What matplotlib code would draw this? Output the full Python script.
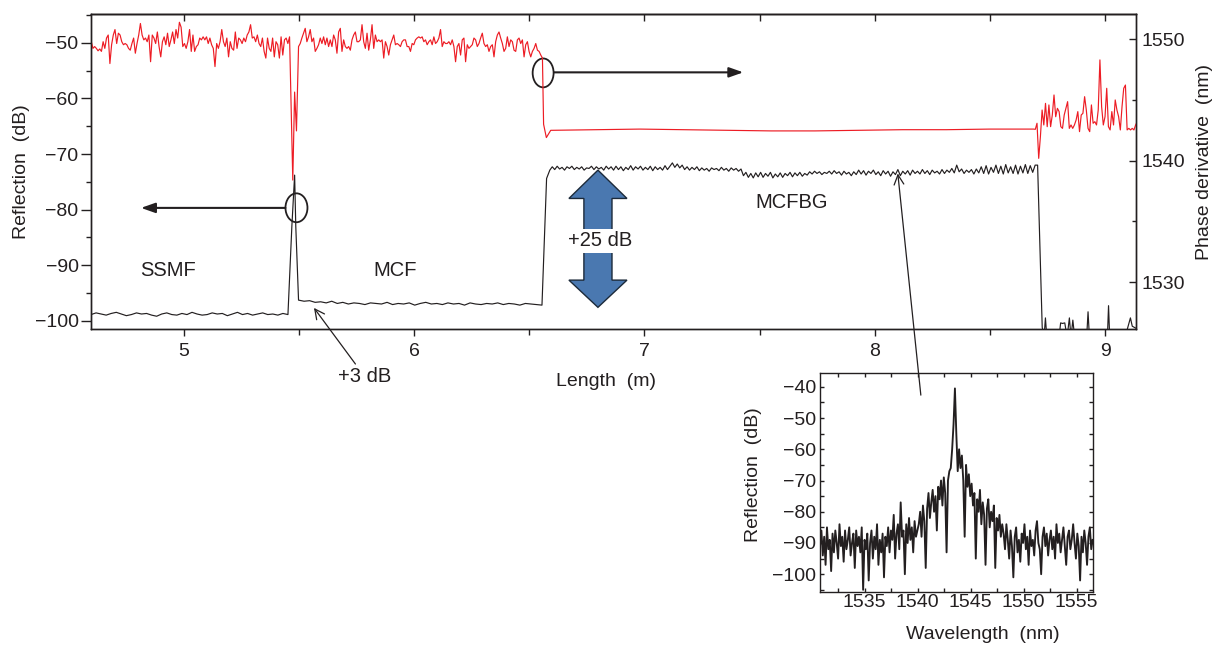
import numpy as np
import matplotlib
matplotlib.use('Agg')
import matplotlib.pyplot as plt
from matplotlib.ticker import MultipleLocator
from matplotlib.patches import Ellipse, Polygon

plt.rcParams.update({
    'font.family': 'sans-serif', 'font.sans-serif': ['Liberation Sans', 'DejaVu Sans'],
    'font.size': 14, 'axes.linewidth': 1.0, 'axes.unicode_minus': True,
})
INK = '#231f20'
RED = '#ed1c24'
BLUE = '#4a78b0'

# ---------------- reflection trace (black, left axis, dB) ----------------
ssmf_span = (4.597, 5.452)
ssmf_db = [-98.9, -98.6, -98.8, -99.0, -98.7, -98.5, -98.8, -99.1, -98.9, -98.6,
           -98.8, -98.7, -99.0, -99.2, -98.8, -98.6, -98.9, -99.0, -98.7, -98.9,
           -98.5, -98.8, -99.0, -98.9, -98.6, -98.8, -98.7, -99.1, -98.8, -98.5,
           -98.9, -98.7, -99.0, -98.8, -98.6, -98.9, -98.8, -99.0, -98.7, -98.9]
peak_len = [5.469, 5.481, 5.486]
peak_db = [-83.0, -73.8, -83.0]
mcf_span = (5.498, 6.555)
mcf_db = [-96.3, -96.5, -96.4, -96.7, -96.6, -96.8, -96.5, -96.9, -96.7, -97.0,
          -96.8, -96.9, -97.1, -96.8, -96.9, -97.0, -96.7, -97.1, -96.9, -97.0,
          -96.8, -97.2, -96.9, -96.7, -97.0, -96.9, -97.1, -96.8, -97.0, -96.9,
          -97.2, -96.8, -97.0, -97.1, -96.9, -97.0, -96.8, -97.1, -96.9, -97.0,
          -97.2, -96.9, -97.0, -97.1, -97.2]
rise_len = [6.575]
rise_db = [-74.4]
mcfbg_span = (6.589, 8.707)
mcfbg_db = [
    -72.9, -72.3, -72.8, -72.2, -72.7, -72.4, -72.9, -72.3, -72.6, -72.2, -72.8, -72.4, -72.7,
    -72.3, -72.9, -72.5, -72.6, -72.2, -72.8, -72.3, -72.7, -72.4, -72.9, -72.2, -72.7,
    -72.3, -72.9, -72.2, -72.8, -72.3, -73.0, -72.4, -72.8, -72.1, -72.9, -72.3, -72.7, -72.2,
    -72.9, -72.4, -72.8, -72.2, -73.0, -72.3, -72.8, -72.4, -72.9, -72.1, -72.8, -72.2,
    -71.6, -72.4, -71.8, -72.5, -72.0, -72.8, -72.3, -72.9, -72.4, -72.8, -72.3, -73.0, -72.5,
    -72.9, -72.6, -73.1, -72.5, -72.8, -72.6, -73.0, -72.4, -72.9, -72.6, -73.1, -72.5,
    -72.9, -72.6, -73.1, -72.7, -73.9, -73.3, -74.2, -73.5, -74.3, -73.4, -74.1, -73.3, -74.2,
    -73.5, -74.0, -73.3, -74.3, -73.6, -74.1, -73.4, -74.2, -73.5, -73.9, -73.3, -74.1,
    -73.4, -73.9, -73.3, -74.0, -73.5, -73.8, -73.2, -73.6, -73.1, -73.5, -73.2, -73.7, -73.3,
    -73.5, -73.1, -73.6, -73.0, -73.5, -73.2, -73.8, -73.1, -73.6, -73.3, -73.9, -73.2,
    -73.7, -72.9, -73.6, -73.0, -73.8, -73.1, -73.5, -72.9, -73.7, -73.2, -73.9, -73.0, -73.6,
    -73.1, -74.0, -73.2, -73.7, -72.8, -73.9, -73.1, -73.6, -73.0, -73.8, -72.9, -73.5,
    -73.1, -73.6, -72.8, -73.5, -73.0, -73.7, -72.9, -73.4, -73.1, -73.6, -72.8, -73.5, -72.9,
    -73.3, -72.6, -73.4, -72.0, -73.2, -72.7, -73.5, -72.9, -73.3, -72.8, -73.6, -72.7,
    -73.4, -72.3, -73.5, -72.1, -73.6, -72.4, -73.3, -72.0, -73.5, -72.2, -73.6, -71.9, -73.4,
    -72.3, -73.5, -72.0, -73.6, -72.2, -73.4, -71.9, -73.5, -72.1, -73.3, -72.0, -72.0]
tail_len = [8.727, 8.735, 8.741, 8.747, 8.760, 8.800, 8.807, 8.815, 8.825, 8.835, 8.845, 8.852,
            8.860, 8.868, 8.900, 8.920, 8.926, 8.932, 8.990, 9.010, 9.015, 9.020, 9.080, 9.100,
            9.110, 9.118, 9.140]
tail_db = [-101.2, -103, -99.5, -103, -102, -103, -100.4, -100.5, -100.4, -103, -99.5, -103,
           -99.9, -103, -104, -103, -98.4, -103, -104, -103, -97.3, -103, -104, -101,
           -99.5, -101, -101.5]

# ---------------- phase derivative trace (red, right axis, nm) ----------------
red_a_span = (4.598, 5.459)
red_a_nm = [
    1549.8, 1549.25, 1549.4, 1549.25, 1549.05, 1549.2, 1549.0, 1549.8, 1549.25, 1550.1,
    1550.35, 1548.0, 1549.55, 1550.35, 1550.8, 1549.65, 1550.5, 1550.35, 1549.8, 1549.55,
    1549.65, 1549.55, 1549.25, 1549.1, 1549.65, 1550.1, 1548.85, 1549.65, 1550.35, 1551.3,
    1550.35, 1549.95, 1550.1, 1549.8, 1550.35, 1548.15, 1550.35, 1550.1, 1549.65, 1550.6,
    1549.4, 1548.55, 1549.8, 1550.2, 1549.55, 1550.5, 1549.4, 1549.95, 1550.6, 1549.65,
    1550.8, 1550.1, 1551.4, 1551.0, 1549.4, 1549.65, 1549.25, 1549.8, 1550.8, 1549.0,
    1550.35, 1549.0, 1549.4, 1549.55, 1550.1, 1549.95, 1550.2, 1549.95, 1550.2, 1549.65,
    1550.1, 1549.55, 1549.25, 1547.75, 1549.65, 1549.25, 1549.8, 1550.8, 1549.8, 1549.4,
    1550.1, 1548.55, 1549.8, 1549.25, 1549.1, 1550.6, 1549.25, 1550.1, 1549.95, 1549.65,
    1550.1, 1549.8, 1550.35, 1550.6, 1551.2, 1550.1, 1550.2, 1549.8, 1550.35, 1549.65,
    1549.4, 1550.1, 1549.0, 1548.45, 1550.1, 1549.25, 1549.0, 1550.1, 1548.55, 1549.8,
    1549.55, 1548.45, 1550.2, 1548.7, 1549.95, 1550.1, 1549.65, 1550.2]
red_dip_len = [5.473, 5.481, 5.489]
red_dip_nm = [1538.4, 1545.65, 1542.45]
red_b_span = (5.498, 6.557)
red_b_nm = [
    1549.4, 1549.65, 1550.1, 1550.5, 1550.9, 1549.8, 1550.2, 1550.8, 1549.8, 1550.1,
    1549.0, 1549.25, 1549.55,
    1550.1, 1549.65, 1550.2, 1549.55, 1550.1, 1549.4, 1549.95, 1549.4, 1550.35, 1549.95,
    1548.85, 1550.6, 1550.9, 1549.0, 1549.95, 1549.4, 1549.25, 1549.4, 1549.1, 1549.95,
    1550.35, 1550.6, 1549.8, 1549.8, 1549.95, 1551.2, 1549.8, 1549.25, 1550.5, 1549.1,
    1549.95, 1551.2, 1549.25, 1550.35, 1549.8, 1549.95, 1549.8, 1549.95, 1548.45, 1549.8,
    1549.4, 1548.7, 1549.55, 1549.95, 1550.35, 1549.55, 1549.65, 1549.55, 1549.4, 1549.8,
    1549.95, 1549.95, 1549.4, 1549.4, 1549.0, 1549.65, 1549.55, 1549.95, 1550.1, 1550.2,
    1550.1, 1550.2, 1549.8, 1549.95, 1549.55, 1549.8, 1549.95, 1549.55, 1550.2, 1549.65,
    1549.8, 1550.1, 1550.8, 1549.4, 1549.8, 1549.65, 1549.65, 1549.8, 1549.55, 1549.95,
    1549.4, 1548.15, 1549.4, 1549.65, 1548.7, 1549.95, 1550.1, 1548.15, 1549.55, 1549.25,
    1549.4, 1549.55, 1550.1, 1549.95, 1549.4, 1549.65, 1550.1, 1550.5, 1549.65, 1549.4,
    1549.55, 1549.0, 1549.4, 1549.55, 1548.55, 1549.8, 1550.35, 1550.6, 1550.1, 1549.65,
    1549.0, 1549.25, 1550.2, 1549.4, 1549.95, 1549.8, 1549.1, 1549.0, 1549.95, 1550.1,
    1549.65, 1549.95, 1548.55, 1549.55, 1549.8, 1549.0, 1548.55, 1549.0, 1549.25, 1549.65,
    1549.1, 1549.0, 1548.7, 1548.45]
red_drop_len = [6.562, 6.574, 6.593]
red_drop_nm = [1543.0, 1541.9, 1542.5]
red_flat_span = (6.60, 8.690)
red_flat_nm = [1542.5, 1542.55, 1542.6, 1542.55, 1542.5, 1542.45, 1542.45, 1542.5, 1542.55,
               1542.55, 1542.6, 1542.6]
red_tail_span = (8.697, 9.140)
red_tail_nm = [
    1542.58, 1543.08, 1540.19, 1541.98, 1544.17, 1542.94, 1544.72, 1542.8, 1544.59, 1542.8,
    1543.76, 1545.41, 1543.62, 1544.31, 1544.04, 1542.8, 1542.66, 1543.76, 1544.31, 1544.86,
    1542.66, 1542.94, 1542.66, 1542.94, 1543.35, 1544.04, 1542.39, 1543.76, 1543.9, 1545.27,
    1544.17, 1542.66, 1542.39, 1544.59, 1543.08, 1543.21, 1542.94, 1544.17, 1548.3, 1544.45,
    1542.94, 1543.62, 1545.96, 1542.8, 1542.53, 1544.04, 1542.94, 1545.0, 1544.17, 1543.62,
    1542.53, 1544.45, 1545.96, 1546.23, 1542.53, 1542.66, 1542.53, 1542.66, 1542.53, 1542.94,
    1543.21]

# ---------------- inset spectrum ----------------
spec_span = (1530.8, 1556.5)
spec_db = [
    -91, -86, -94, -88, -97, -85, -92, -89, -99, -87, -93, -86, -90, -95, -84, -91, -88, -96,
    -86, -92, -89, -85, -94, -90, -87, -98, -86, -91, -88, -93, -85, -105, -89, -92, -87, -102,
    -90, -86, -95, -88, -92, -84, -97, -89, -93, -87, -101, -88,
    -91, -85, -93, -86, -89, -81, -95, -87, -84, -92, -77, -88, -86, -100, -84, -90, -82, -89,
    -85, -93, -83, -88, -86,
    -84, -80, -88, -78, -83, -98, -79, -74, -82, -77, -73, -80, -75, -86, -72, -76, -70, -78,
    -69, -74, -93, -70, -67, -66,
    -60, -52, -40.5, -55, -67,
    -60, -66, -62, -70, -88, -65, -72, -68, -75,
    -71, -78, -74, -95, -76, -80, -73, -84, -77, -81, -97, -79, -76, -85, -80, -83, -78, -98,
    -82, -86, -81, -88, -84,
    -87, -92, -84, -89, -95, -86, -91, -101, -88, -85, -93, -89, -96, -87, -90, -84, -92, -88,
    -97, -86, -91, -89, -94, -86, -83, -90, -92, -100, -88, -85, -91, -87, -94, -89, -86, -92,
    -88, -95, -84, -90, -87, -93, -89, -85, -91, -97, -88, -86, -92, -89, -84, -90, -95, -87,
    -91, -102, -88, -93, -86, -90, -97, -88, -85, -92, -89]


def seg(span, vals):
    return np.linspace(span[0], span[1], len(vals))


blk_x = np.concatenate([seg(ssmf_span, ssmf_db), peak_len, seg(mcf_span, mcf_db), rise_len,
                        seg(mcfbg_span, mcfbg_db), tail_len])
blk_y = np.concatenate([ssmf_db, peak_db, mcf_db, rise_db, mcfbg_db, tail_db])
red_x = np.concatenate([seg(red_a_span, red_a_nm), red_dip_len, seg(red_b_span, red_b_nm),
                        red_drop_len, seg(red_flat_span, red_flat_nm), seg(red_tail_span, red_tail_nm)])
red_y = np.concatenate([red_a_nm, red_dip_nm, red_b_nm, red_drop_nm, red_flat_nm, red_tail_nm])

# ============================================
# FIGURE
# ============================================
fig = plt.figure(figsize=(12.17, 6.46), dpi=100)
ax = fig.add_axes([0.0748, 0.4907, 0.8586, 0.4876])
ax2 = ax.twinx()

ax.plot(blk_x, blk_y, color=INK, lw=0.85)
ax2.plot(red_x, red_y, color=RED, lw=0.85)

ax.set_xlim(4.597, 9.134)
ax.set_ylim(-101.5, -44.8)
ax2.set_ylim(1526.13, 1552.08)

ax.xaxis.set_major_locator(MultipleLocator(1)); ax.xaxis.set_minor_locator(MultipleLocator(0.5))
ax.yaxis.set_major_locator(MultipleLocator(10)); ax.yaxis.set_minor_locator(MultipleLocator(5))
ax2.yaxis.set_major_locator(MultipleLocator(10)); ax2.yaxis.set_minor_locator(MultipleLocator(5))
ax.tick_params(axis='x', which='major', direction='out', length=5, width=1, pad=5, colors=INK)
ax.tick_params(axis='x', which='minor', direction='out', length=4, width=1, colors=INK)
ax.tick_params(axis='y', which='major', direction='out', length=7, width=1, pad=2, colors=INK)
ax.tick_params(axis='y', which='minor', direction='out', length=3.5, width=1, colors=INK)
ax2.tick_params(axis='y', which='major', direction='in', length=5, width=1, pad=4, colors=INK)
ax2.tick_params(axis='y', which='minor', direction='in', length=3, width=1, colors=INK)
top = ax.secondary_xaxis('top')
top.xaxis.set_major_locator(MultipleLocator(0.5))
top.tick_params(direction='in', length=5, width=1, labeltop=False, colors=INK)
for a in (ax, ax2):
    for s in a.spines.values():
        s.set_color(INK)
top.spines['top'].set_color(INK)

ax.set_xlabel('Length  (m)', color=INK)
ax.xaxis.set_label_coords(0.493, -0.14)
ax.set_ylabel('Reflection  (dB)', color=INK)
ax.yaxis.set_label_coords(-0.058, 0.5)
ax2.set_ylabel('Phase derivative  (nm)', color=INK)
ax2.yaxis.set_label_coords(1.057, 0.53)

# region labels
txt = dict(color=INK, fontsize=14.5, ha='center', va='center')
ax.text(4.933, -90.9, 'SSMF', **txt)
ax.text(5.919, -90.9, 'MCF', **txt)
ax.text(7.640, -78.65, 'MCFBG', **txt)

# double blue arrow (+25 dB)
cx, hw, sw = 6.798, 0.126, 0.061
tip_t, base_t, base_b, tip_b = -72.9, -78.0, -92.7, -97.6
arrow_pts = [(cx, tip_t), (cx + hw, base_t), (cx + sw, base_t), (cx + sw, base_b), (cx + hw, base_b),
             (cx, tip_b), (cx - hw, base_b), (cx - sw, base_b), (cx - sw, base_t), (cx - hw, base_t)]
ax.add_patch(Polygon(arrow_pts, closed=True, fc=BLUE, ec='#1c2a3a', lw=1.0, zorder=4))
ax.text(6.808, -85.6, '+25 dB', zorder=5,
        bbox=dict(boxstyle='square,pad=0.12', fc='white', ec='none'), **txt)

# circles and axis-pointing arrows
ax.add_patch(Ellipse((5.489, -79.68), 0.0955, 5.2, fill=False, ec=INK, lw=1.3, zorder=5))
ax.add_patch(Ellipse((6.560, -55.4), 0.091, 5.2, fill=False, ec=INK, lw=1.3, zorder=5))
solid = dict(arrowstyle='-|>,head_length=0.85,head_width=0.3', color=INK, lw=1.5,
             shrinkA=0, shrinkB=0, mutation_scale=10)
ax.annotate('', xy=(4.814, -79.7), xytext=(5.441, -79.7), arrowprops=solid)
ax.annotate('', xy=(7.429, -55.3), xytext=(6.607, -55.3), arrowprops=solid)

# +3 dB pointer
thin = dict(arrowstyle='->,head_length=0.7,head_width=0.35', color=INK, lw=0.9,
            shrinkA=0, shrinkB=0, mutation_scale=10)
ax.annotate('', xy=(5.565, -97.7), xytext=(5.745, -107.8), arrowprops=thin, annotation_clip=False)
ax.text(5.784, -110.1, '+3 dB', **txt)

# pointer from grating trace to inset
ax.annotate('', xy=(8.100, -73.5), xytext=(8.200, -113.4), arrowprops=thin, annotation_clip=False)

# ---------------- inset ----------------
ins = fig.add_axes([0.6738, 0.0831, 0.224, 0.3398])
ins.patch.set_visible(False)
ins.plot(seg(spec_span, spec_db), spec_db, color=INK, lw=1.35)
ins.set_xlim(1530.8, 1556.5)
ins.set_ylim(-105.8, -35.5)
ins.xaxis.set_major_locator(MultipleLocator(5)); ins.xaxis.set_minor_locator(MultipleLocator(2.5))
ins.yaxis.set_major_locator(MultipleLocator(10)); ins.yaxis.set_minor_locator(MultipleLocator(5))
ins.tick_params(which='both', direction='in', top=True, right=True, length=3, width=1, colors=INK)
ins.tick_params(axis='x', pad=1)
ins.tick_params(axis='y', pad=3)
for s in ins.spines.values():
    s.set_color(INK)
ins.set_xlabel('Wavelength  (nm)', color=INK)
ins.xaxis.set_label_coords(0.598, -0.154)
ins.set_ylabel('Reflection  (dB)', color=INK)
ins.yaxis.set_label_coords(-0.213, 0.536)

fig.savefig('out.png', dpi=100)
